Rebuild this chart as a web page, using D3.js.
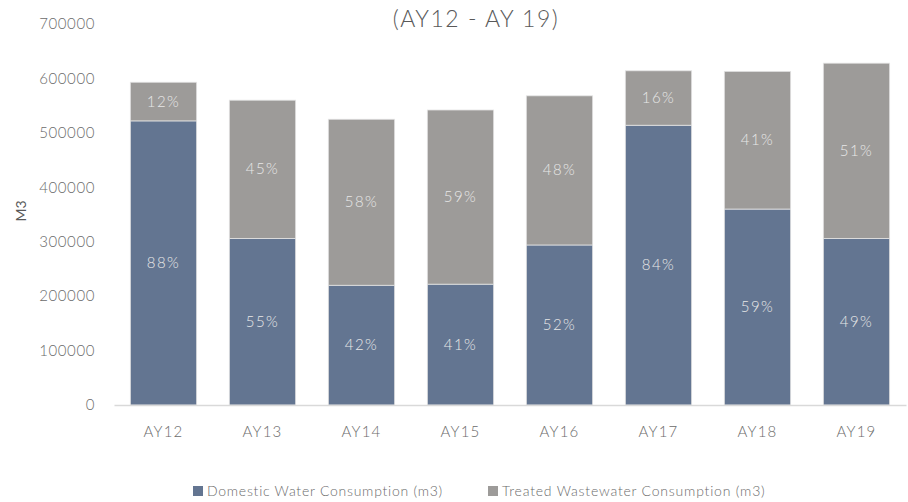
<!DOCTYPE html>
<html>
<head>
<meta charset="utf-8">
<script src="https://cdn.jsdelivr.net/npm/d3@7"></script>
<style>
  body { margin: 0; background: #fff; }
  text { font-family: Lato, "Open Sans", sans-serif; }
</style>
</head>
<body>
<div id="chart"></div>
<script>
(function () {
    // 数据
    const years = ['AY12', 'AY13', 'AY14', 'AY15', 'AY16', 'AY17', 'AY18', 'AY19'];
    const domestic = [522000, 306000, 220000, 222000, 294000, 514000, 360000, 306000];
    const treated = [71000, 254000, 305000, 320000, 274000, 100000, 253000, 322000];
    const domesticPct = ['88%', '55%', '42%', '41%', '52%', '84%', '59%', '49%'];
    const treatedPct = ['12%', '45%', '58%', '59%', '48%', '16%', '41%', '51%'];
    const yTicks = [0, 100000, 200000, 300000, 400000, 500000, 600000, 700000];
    const seriesNames = ['Domestic Water Consumption (m3)', 'Treated Wastewater Consumption (m3)'];
    const colors = ['#637591', '#9d9b99'];

    const width = 908;
    const height = 502;
    const left = 114, right = 906, top = 24, bottom = 405;

    var svg = d3.select('#chart').append('svg')
        .attr('width', width).attr('height', height);

    var x = d3.scaleBand().domain(years).range([left, right]).paddingInner(0.33).paddingOuter(0.165);
    var y = d3.scaleLinear().domain([0, 700000]).range([bottom, top]);

    // 标题
    svg.append('text').attr('x', 476).attr('y', 27).attr('text-anchor', 'middle')
        .attr('font-size', 23).attr('fill', '#595959').attr('font-weight', 300)
        .attr('letter-spacing', 1.5)
        .text('(AY12 - AY 19)');

    // y轴标签
    svg.append('text').attr('transform', 'translate(20,211) rotate(-90)')
        .attr('text-anchor', 'middle').attr('dominant-baseline', 'central')
        .attr('font-size', 14).attr('fill', '#595959')
        .text('M3');

    var yAxis = svg.append('g').attr('transform', 'translate(' + left + ',0)')
        .call(d3.axisLeft(y).tickValues(yTicks).tickSize(0).tickPadding(19).tickFormat(d3.format('d')));
    yAxis.select('.domain').remove();
    yAxis.selectAll('text').attr('font-size', 15).attr('fill', '#6b6b6b')
        .attr('font-weight', 300).attr('letter-spacing', 0.6)
        .style('font-family', 'Lato, sans-serif');

    var stacked = years.map(function (yr, i) {
        return [
            { year: yr, y0: 0, y1: domestic[i], label: domesticPct[i], color: colors[0] },
            { year: yr, y0: domestic[i], y1: domestic[i] + treated[i], label: treatedPct[i], color: colors[1] }
        ];
    });
    var segs = [].concat.apply([], stacked);

    svg.append('g').selectAll('rect').data(segs).enter().append('rect')
        .attr('x', function (d) { return x(d.year); })
        .attr('y', function (d) { return y(d.y1); })
        .attr('width', x.bandwidth())
        .attr('height', function (d) { return y(d.y0) - y(d.y1); })
        .attr('fill', function (d) { return d.color; })
        .attr('stroke', '#e3e3e3').attr('stroke-width', 0.8);

    svg.append('g').selectAll('text').data(segs).enter().append('text')
        .attr('x', function (d) { return x(d.year) + x.bandwidth() / 2; })
        .attr('y', function (d) { return (y(d.y0) + y(d.y1)) / 2 + 5; })
        .attr('text-anchor', 'middle').attr('font-size', 15).attr('fill', '#e8e8e8')
        .attr('font-weight', 300).attr('letter-spacing', 1.5)
        .text(function (d) { return d.label; });

    var xAxis = svg.append('g').attr('transform', 'translate(0,' + bottom + ')')
        .call(d3.axisBottom(x).tickSize(0).tickPadding(21));
    xAxis.select('.domain').attr('stroke', '#d9d9d9').attr('stroke-width', 1.5);
    xAxis.selectAll('text').attr('font-size', 15).attr('fill', '#6b6b6b')
        .attr('font-weight', 300).attr('letter-spacing', 1.2)
        .style('font-family', 'Lato, sans-serif');

    // 图例
    var legendX = [193, 488];
    var legendSpacing = [0.75, 0.8];
    seriesNames.forEach(function (name, i) {
        var g = svg.append('g').attr('transform', 'translate(' + legendX[i] + ',486)');
        g.append('rect').attr('width', 10).attr('height', 10).attr('fill', colors[i]);
        g.append('text').attr('x', 14).attr('y', 10).attr('font-size', 14)
            .attr('font-weight', 300).attr('letter-spacing', legendSpacing[i])
            .attr('fill', '#6b6b6b').text(name);
    });
})();
</script>
</body>
</html>
